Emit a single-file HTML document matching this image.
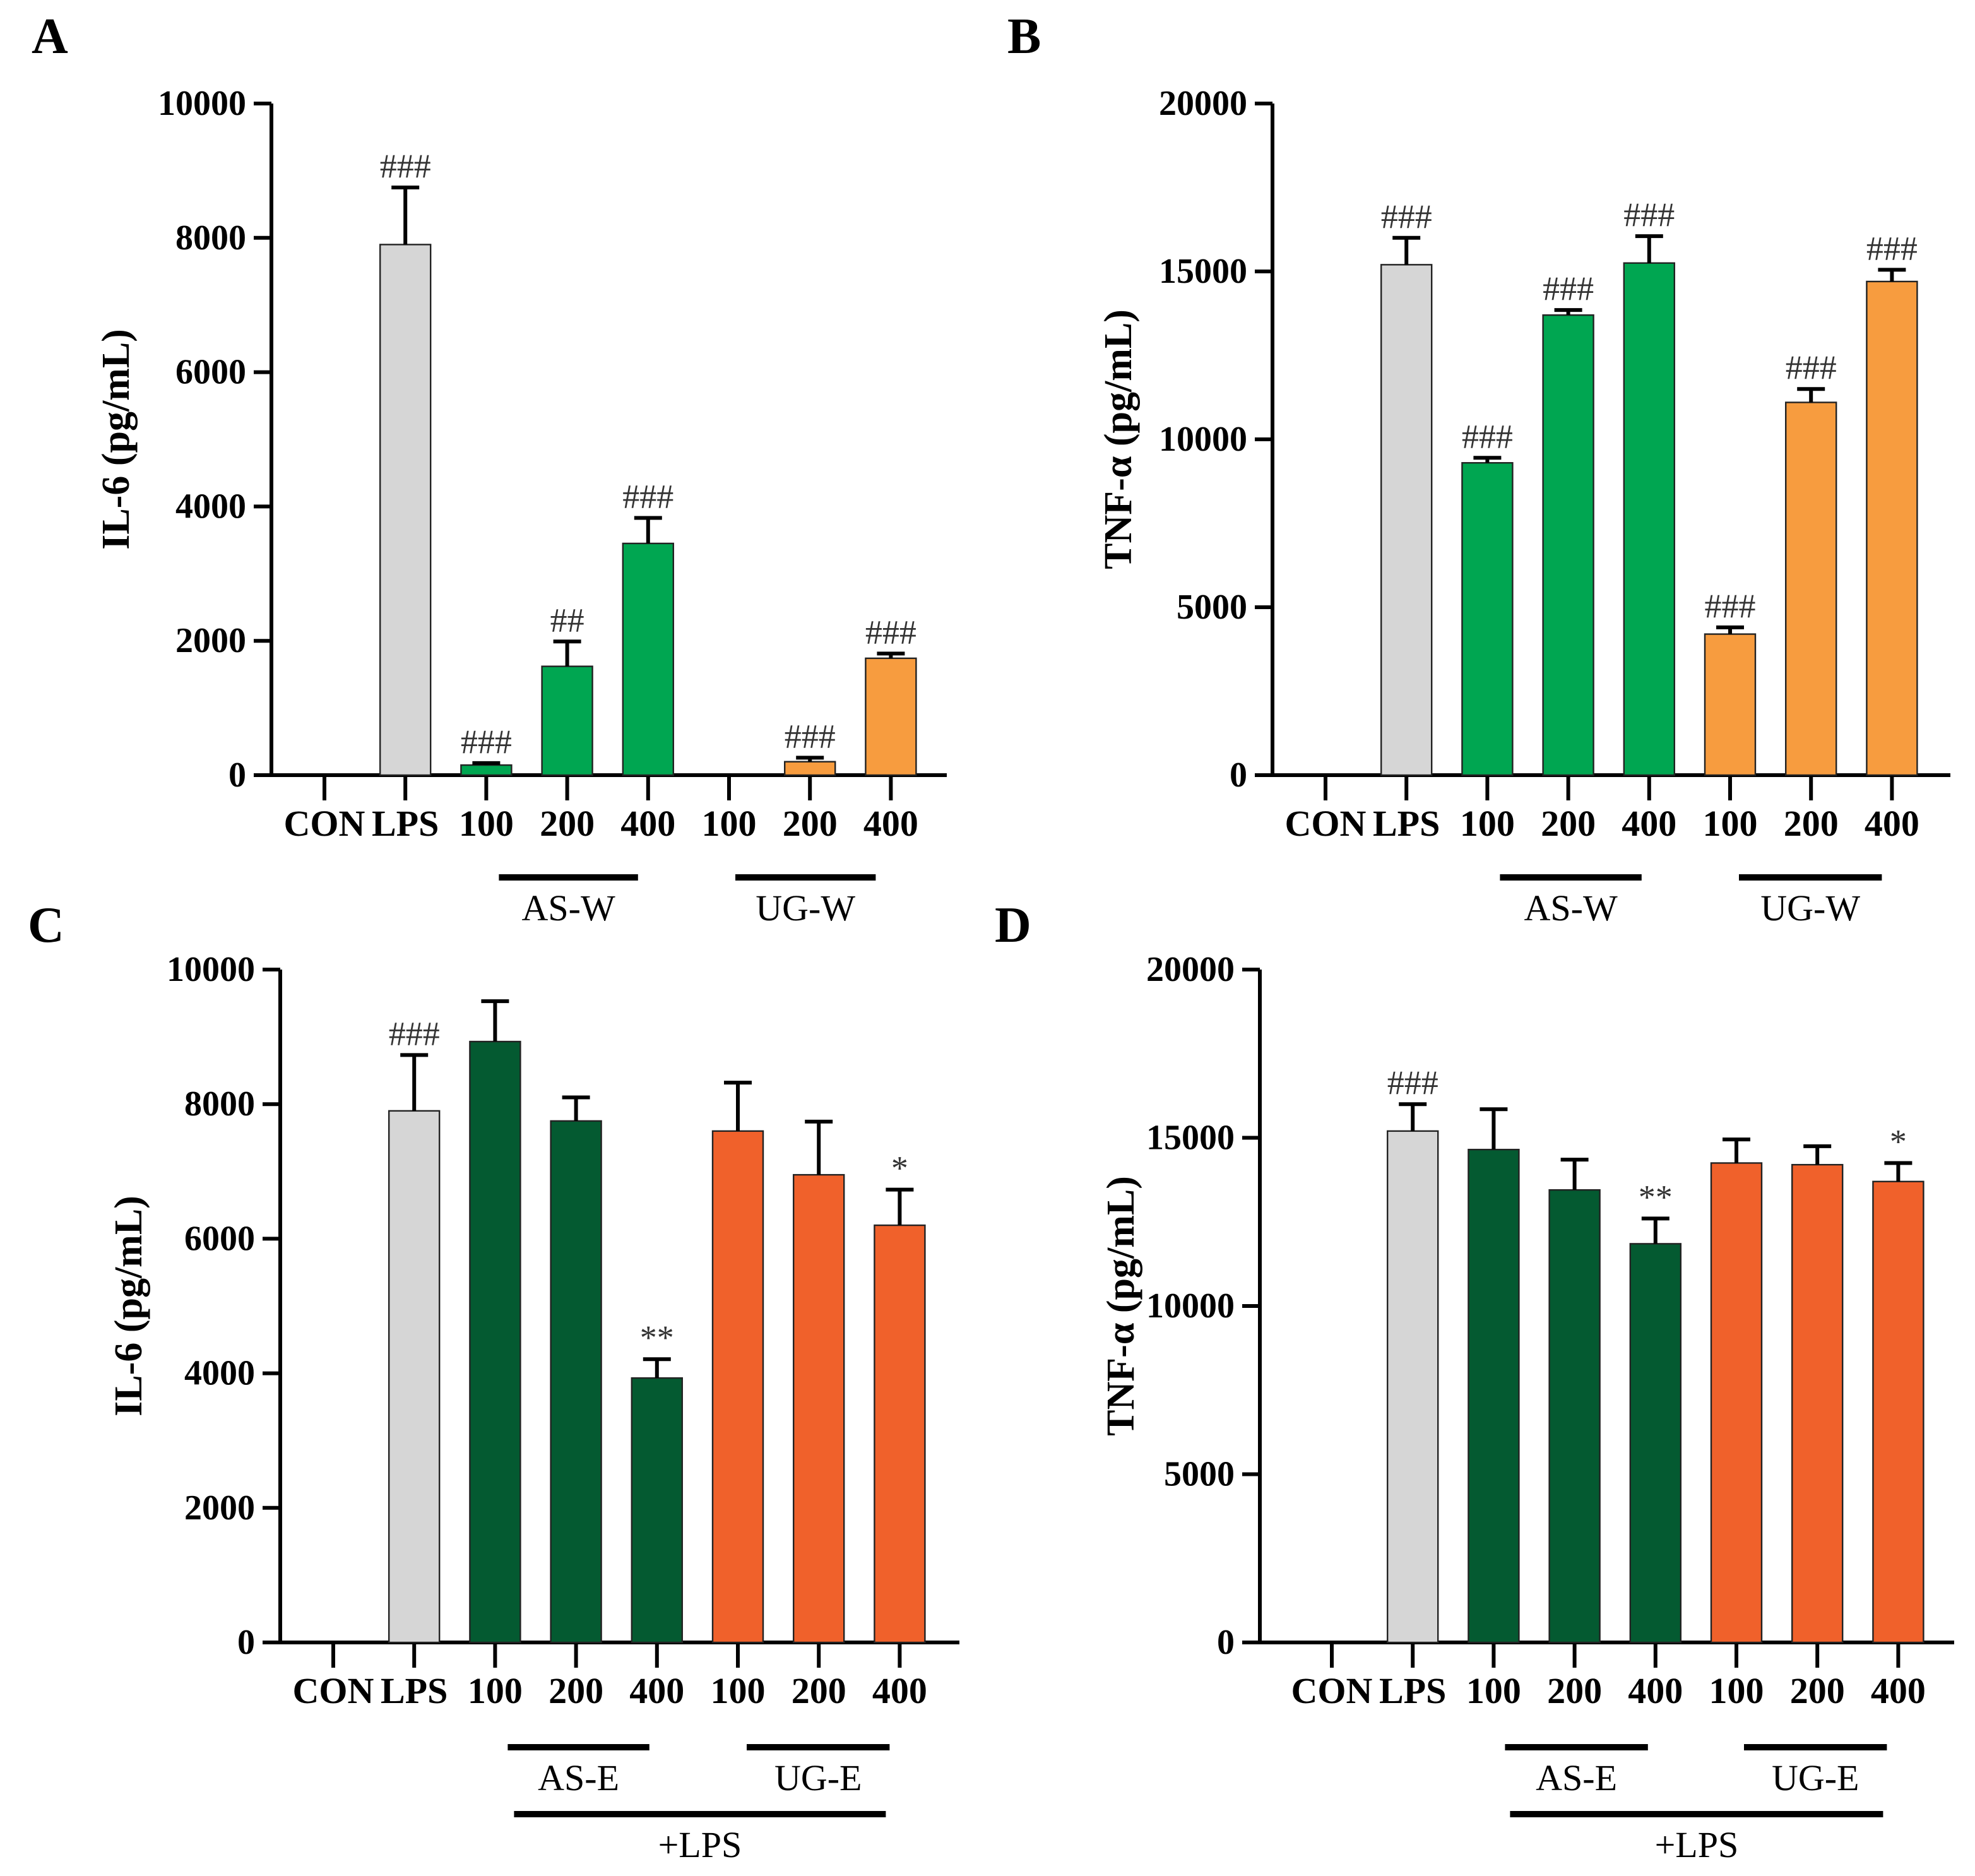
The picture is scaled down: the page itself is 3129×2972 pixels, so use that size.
<!DOCTYPE html>
<html><head><meta charset="utf-8"><style>
html,body{margin:0;padding:0;background:#fff}
svg{display:block}
text{font-family:"Liberation Serif",serif}
</style></head><body>
<svg id="fig" width="3129" height="2972" viewBox="0 0 1564.5 1486" xmlns="http://www.w3.org/2000/svg"></svg>
<script>
const categories = ["CON","LPS","100","200","400","100","200","400"];
const valuesA = [0,7900,150,1620,3450,0,200,1740];
const errorsA = [0,850,30,370,380,0,60,70];
const annotA = ["","###","###","##","###","","###","###"];
const valuesB = [0,15200,9300,13700,15250,4200,11100,14700];
const errorsB = [0,800,150,150,800,200,400,350];
const annotB = ["","###","###","###","###","###","###","###"];
const valuesC = [0,7900,8930,7750,3930,7600,6950,6200];
const errorsC = [0,830,600,350,280,720,790,530];
const annotC = ["","###","","","**","","","*"];
const valuesD = [0,15200,14650,13450,11850,14250,14200,13700];
const errorsD = [0,800,1200,900,750,700,550,550];
const annotD = ["","###","","","**","","","*"];
const ticksIL6 = [0,2000,4000,6000,8000,10000];
const ticksTNF = [0,5000,10000,15000,20000];

const svg = document.getElementById('fig');
const NS = 'http://www.w3.org/2000/svg';
function mk(tag, attrs, parent, txt){
  const e = document.createElementNS(NS, tag);
  for (const k in attrs) e.setAttribute(k, attrs[k]);
  if (txt !== undefined) e.textContent = txt;
  (parent||svg).appendChild(e);
  return e;
}
const colorsW = ["#fff","#d6d6d6","#00a651","#00a651","#00a651","#f79c3f","#f79c3f","#f79c3f"];
const colorsE = ["#fff","#d6d6d6","#045a31","#045a31","#045a31","#f0612b","#f0612b","#f0612b"];

function panel(o){
  const g = mk('g', {});
  
  
  const yScale = v => o.y0 - (v / o.max) * (o.y0 - o.yTop);
  const xScale = i => o.x0 + i * 64.1;
  const L = mk('text', {x:o.lx, y:o.ly, 'font-size':40, 'font-weight':'bold'}, g, o.letter);
  
  
  const ya = mk('line', {x1:o.ax, y1:o.yTop, x2:o.ax, y2:o.y0+1.5, stroke:'#000','stroke-width':3}, g);
  
  
  const xa = mk('line', {x1:o.ax-14, y1:o.y0, x2:o.xEnd, y2:o.y0, stroke:'#000','stroke-width':3}, g);
  
  
  o.ticks.forEach(t => {
    const y = yScale(t);
    mk('line', {x1:o.ax-14, y1:y, x2:o.ax, y2:y, stroke:'#000','stroke-width':3}, g);
    const tl = mk('text', {x:o.ax-20, y:y+9, 'font-size':28, 'font-weight':'bold', 'text-anchor':'end'}, g, String(t));
    
    
  });
  const yt = mk('text', {x:0, y:0, 'font-size':31, 'font-weight':'bold', 'text-anchor':'middle',
    transform:'translate('+o.titleX+','+((o.yTop+o.y0)/2)+') rotate(-90)'}, g, o.title);
  
  
  categories.forEach((c, i) => {
    const x = xScale(i);
    mk('line', {x1:x, y1:o.y0, x2:x, y2:o.y0+20, stroke:'#000','stroke-width':3}, g);
    const xl = mk('text', {x:x, y:o.y0+48, 'font-size':29, 'font-weight':'bold', 'text-anchor':'middle'}, g, c);
    
    
    const v = o.values[i];
    if (v > 0) {
      const top = yScale(v), et = yScale(v + o.errors[i]);
      const b = mk('rect', {x:x-20, y:top, width:40, height:o.y0-top, fill:o.colors[i], stroke:'#222','stroke-width':1.2}, g);
      
      
      const e1 = mk('line', {x1:x, y1:top, x2:x, y2:et, stroke:'#000','stroke-width':3}, g);
      
      
      mk('line', {x1:x-11, y1:et, x2:x+11, y2:et, stroke:'#000','stroke-width':3}, g);
      if (o.annot[i]) {
        const a = mk('text', {x:x, y:et-8, 'font-size':27, 'text-anchor':'middle', fill:'#333'}, g, o.annot[i]);
        
        
      }
    }
  });
  o.groups.forEach(gr => {
    const x1 = xScale(gr[0]) + gr[3], x2 = xScale(gr[1]) + gr[4];
    const gl = mk('line', {x1:x1, y1:gr[5], x2:x2, y2:gr[5], stroke:'#000','stroke-width':5}, g);
    
    
    const gt = mk('text', {x:(x1+x2)/2, y:gr[5]+34, 'font-size':29, 'text-anchor':'middle'}, g, gr[2]);
    
    
  });
}
panel({letter:'A', lx:25, ly:42, ax:215, x0:257, xEnd:750, yTop:82, y0:614, max:10000, ticks:ticksIL6,
  title:'IL-6 (pg/mL)', titleX:102, values:valuesA, errors:errorsA, annot:annotA, colors:colorsW,
  groups:[[2,4,'AS-W',10,-8,695],[5,7,'UG-W',5,-12,695]]});
panel({letter:'B', lx:798, ly:42, ax:1008, x0:1050, xEnd:1545, yTop:82, y0:614, max:20000, ticks:ticksTNF,
  title:'TNF-α (pg/mL)', titleX:896, values:valuesB, errors:errorsB, annot:annotB, colors:colorsW,
  groups:[[2,4,'AS-W',10,-6,695],[5,7,'UG-W',7,-8,695]]});
panel({letter:'C', lx:22, ly:746, ax:222, x0:264, xEnd:760, yTop:768, y0:1301, max:10000, ticks:ticksIL6,
  title:'IL-6 (pg/mL)', titleX:112, values:valuesC, errors:errorsC, annot:annotC, colors:colorsE,
  groups:[[2,4,'AS-E',10,-6,1384],[5,7,'UG-E',7,-8,1384],[2,7,'+LPS',15,-11,1437]]});
panel({letter:'D', lx:788, ly:746, ax:998, x0:1055, xEnd:1548, yTop:768, y0:1301, max:20000, ticks:ticksTNF,
  title:'TNF-α (pg/mL)', titleX:898, values:valuesD, errors:errorsD, annot:annotD, colors:colorsE,
  groups:[[2,4,'AS-E',9,-6,1384],[5,7,'UG-E',6,-9,1384],[2,7,'+LPS',13,-12,1437]]});
</script>
</body></html>
